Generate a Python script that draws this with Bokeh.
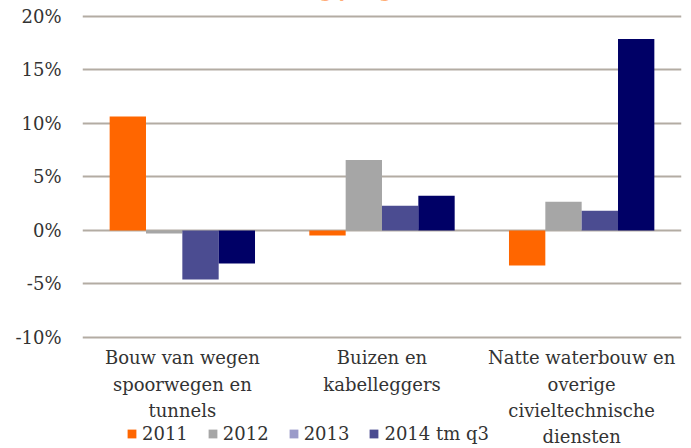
from bokeh.plotting import figure
from bokeh.models import FactorRange, Range1d, FixedTicker, PrintfTickFormatter, Legend, LegendItem, Label, ColumnDataSource
from bokeh.transform import dodge
from bokeh.core.properties import value
from bokeh.embed import file_html
from bokeh.resources import INLINE

categories = ["Bouw van wegen\nspoorwegen en\ntunnels",
              "Buizen en\nkabelleggers",
              "Natte waterbouw en\noverige\ncivieltechnische\ndiensten"]
series = ["2011", "2012", "2013", "2014 tm q3"]
v2011 = [10.65, -0.47, -3.27]
v2012 = [-0.28, 6.58, 2.68]
v2013 = [-4.58, 2.31, 1.84]
v2014 = [-3.08, 3.24, 17.9]
bar_colors = ["#FF6600", "#A6A6A6", "#4B4C91", "#000066"]
legend_colors = ["#FF6600", "#A6A6A6", "#9B9BC9", "#4B4C91"]
y_ticks = [-10, -5, 0, 5, 10, 15, 20]
title_text = "Figuur 4  Omzetontwikkeling per gebied"

FONT = "DejaVu Serif"
TXT = "#333333"

source = ColumnDataSource(dict(cat=categories, v2011=v2011, v2012=v2012, v2013=v2013, v2014=v2014,
                               ybase=[min(y_ticks)] * len(categories)))

# frame spans the whole canvas height; -10 sits at 337 px and 20 at 16 px
p = figure(width=691, height=448, output_backend="svg", toolbar_location=None,
           x_range=FactorRange(*categories, range_padding=0),
           y_range=Range1d(-20.374, 21.495),
           min_border_left=82, min_border_right=10, min_border_top=0, min_border_bottom=0)
p.outline_line_color = None
p.background_fill_color = "white"
p.border_fill_color = "white"
p.xaxis.visible = False

bw = 0.182
cols = ["v2011", "v2012", "v2013", "v2014"]
for i, (c, col) in enumerate(zip(cols, bar_colors)):
    p.vbar(x=dodge("cat", (i - 1.5) * bw, range=p.x_range), top=c, bottom=0, width=bw,
           source=source, fill_color=col, line_color=None)

# category labels under the bottom gridline
p.text(x="cat", y="ybase", text="cat", source=source, y_offset=10,
       text_align="center", text_baseline="top", text_font=value(FONT),
       text_font_size="18px", text_color=TXT, text_line_height=1.24)

# legend swatches (zero-height bars only carry the legend colours)
items = []
for s, col in zip(series, legend_colors):
    r = p.vbar(x=[categories[0]], top=[0], bottom=[0], width=bw, fill_color=col, line_color=None)
    items.append(LegendItem(label=s, renderers=[r]))
legend = Legend(items=items, orientation="horizontal", location=(44, 4),
                glyph_width=11, glyph_height=11, label_standoff=5, spacing=19,
                padding=0, margin=0, background_fill_alpha=0, border_line_alpha=0,
                label_text_font=FONT, label_text_font_size="18px", label_text_color=TXT)
p.add_layout(legend)

p.ygrid.ticker = FixedTicker(ticks=y_ticks)
p.ygrid.grid_line_color = "#B3ACA3"
p.ygrid.grid_line_width = 2
p.xgrid.visible = False

p.yaxis.ticker = FixedTicker(ticks=y_ticks)
p.yaxis.formatter = PrintfTickFormatter(format="%d%%")
p.yaxis.axis_line_color = None
p.yaxis.major_tick_line_color = None
p.yaxis.minor_tick_line_color = None
p.yaxis.major_label_standoff = 15
p.yaxis.major_label_text_font = FONT
p.yaxis.major_label_text_font_size = "18px"
p.yaxis.major_label_text_color = TXT

# title sits mostly above the page edge, as in the reference
title = Label(x=-35, y=458, x_units="screen", y_units="screen", text=title_text,
              text_font="DejaVu Sans", text_font_style="bold italic", text_font_size="18px",
              text_color="#FF6600", text_baseline="alphabetic", text_align="left")
p.add_layout(title)

open("out.html", "w").write(file_html(p, INLINE))
